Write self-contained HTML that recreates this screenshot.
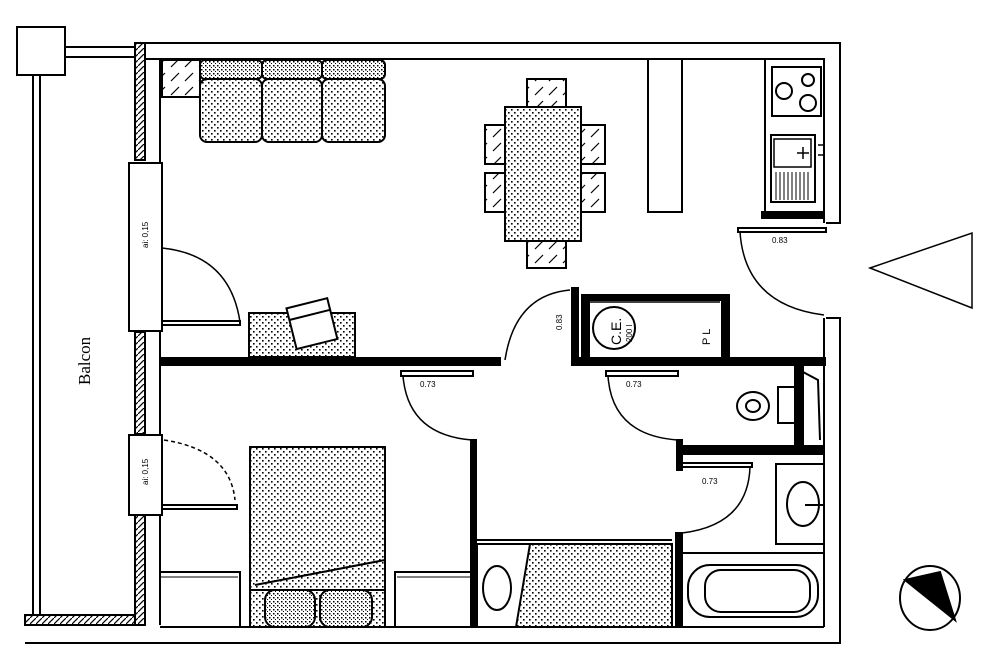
<!DOCTYPE html>
<html><head><meta charset="utf-8"><style>body{margin:0;background:#fff}svg{display:block}</style></head><body>
<svg width="1000" height="667" viewBox="0 0 1000 667" xmlns="http://www.w3.org/2000/svg" font-family="Liberation Sans, sans-serif">
<defs>
<pattern id="dots" width="6" height="6" patternUnits="userSpaceOnUse"><rect width="6" height="6" fill="#fff"/><rect x="1" y="1" width="1.6" height="1.6" fill="#000"/><rect x="4" y="4" width="1.6" height="1.6" fill="#000"/></pattern>
<pattern id="dots2" width="4" height="4" patternUnits="userSpaceOnUse"><rect width="4" height="4" fill="#fff"/><rect x="1" y="1" width="1.5" height="1.5" fill="#000"/><rect x="3" y="3" width="1.2" height="1.2" fill="#000"/></pattern>
<pattern id="hatch" width="6" height="6" patternUnits="userSpaceOnUse"><rect width="6" height="6" fill="#fff"/><path d="M0 6L6 0" stroke="#000" stroke-width="1.2"/></pattern>
<pattern id="hatch2" width="14" height="14" patternUnits="userSpaceOnUse"><rect width="14" height="14" fill="#fff"/><path d="M3 11L11 3" stroke="#000" stroke-width="1.2"/></pattern>
</defs>
<g fill="none" stroke="#000" stroke-width="2">
<rect x="17" y="27" width="48" height="48"/>
<line x1="65" y1="47" x2="135" y2="47"/><line x1="65" y1="57" x2="135" y2="57"/>
<line x1="33" y1="75" x2="33" y2="615"/><line x1="40" y1="75" x2="40" y2="615"/>
<rect x="25" y="615" width="120" height="10" fill="url(#hatch)"/>
<rect x="135" y="43" width="10" height="117" fill="url(#hatch)"/>
<rect x="135" y="332" width="10" height="102" fill="url(#hatch)"/>
<rect x="135" y="515" width="10" height="110" fill="url(#hatch)"/>
<line x1="160" y1="59" x2="160" y2="625"/>
<rect x="129" y="163" width="33" height="168" fill="#fff"/>
<line x1="162" y1="163" x2="162" y2="248"/>
<rect x="129" y="435" width="33" height="80" fill="#fff"/>
<polyline points="135,43 840,43 840,223 826,223"/>
<polyline points="145,59 824,59"/>
<line x1="824" y1="59" x2="824" y2="223"/>
<polyline points="826,318 840,318 840,643 25,643"/>
<line x1="824" y1="318" x2="824" y2="627"/>
<line x1="160" y1="627" x2="824" y2="627"/>
<rect x="162" y="60" width="38" height="37" fill="url(#hatch2)"/>
<rect x="200" y="60" width="62" height="19" rx="5" fill="url(#dots2)"/>
<rect x="262" y="60" width="60" height="19" rx="5" fill="url(#dots2)"/>
<rect x="322" y="60" width="63" height="19" rx="5" fill="url(#dots2)"/>
<rect x="200" y="79" width="62" height="63" rx="7" fill="url(#dots)"/>
<rect x="262" y="79" width="60" height="63" rx="7" fill="url(#dots)"/>
<rect x="322" y="79" width="63" height="63" rx="7" fill="url(#dots)"/>
<rect x="527" y="79" width="39" height="28" fill="url(#hatch2)"/>
<rect x="527" y="240" width="39" height="28" fill="url(#hatch2)"/>
<rect x="485" y="125" width="20" height="39" fill="url(#hatch2)"/>
<rect x="485" y="173" width="20" height="39" fill="url(#hatch2)"/>
<rect x="581" y="125" width="24" height="39" fill="url(#hatch2)"/>
<rect x="581" y="173" width="24" height="39" fill="url(#hatch2)"/>
<rect x="505" y="107" width="76" height="134" fill="url(#dots)"/>
<rect x="648" y="59" width="34" height="153"/>
<rect x="765" y="59" width="59" height="153"/>
<rect x="772" y="67" width="49" height="49"/>
<circle cx="784" cy="91" r="8"/><circle cx="808" cy="80" r="6"/><circle cx="808" cy="103" r="8"/>
<rect x="771" y="135" width="44" height="67"/>
<rect x="774" y="139" width="37" height="28" stroke-width="1.5"/>
<path d="M776 172v28M780 172v28M784 172v28M788 172v28M792 172v28M796 172v28M800 172v28M804 172v28M808 172v28" stroke-width="1"/>
<path d="M803 147v12M797 153h12M818 145h5M818 155h5" stroke-width="1.5"/>
<rect x="762" y="212" width="62" height="6" fill="#000"/>
<rect x="738" y="228" width="88" height="4"/>
<path d="M740 232 Q745 305 824 315" stroke-width="1.5"/>
<polygon points="870,268 972,233 972,308" stroke-width="1.5"/>
<path d="M162 248 Q230 255 240 322" stroke-width="1.5"/>
<rect x="162" y="321" width="78" height="4"/>
<rect x="249" y="313" width="106" height="44" fill="url(#dots)"/>
<g transform="rotate(-14 310 320)"><rect x="290" y="303" width="42" height="42" fill="#fff"/><line x1="290" y1="315" x2="332" y2="315"/></g>
<rect x="162" y="358" width="338" height="7" fill="#000"/>
<rect x="572" y="288" width="6" height="77" fill="#000"/>
<path d="M505 360 Q515 295 570 290" stroke-width="1.5"/>
<rect x="582" y="295" width="7" height="70" fill="#000"/>
<rect x="722" y="295" width="7" height="70" fill="#000"/>
<rect x="582" y="295" width="147" height="5" fill="#000"/>
<line x1="590" y1="302" x2="720" y2="302" stroke-width="1.5"/>
<circle cx="614" cy="328" r="21"/>
<rect x="575" y="358" width="250" height="7" fill="#000"/>
<rect x="401" y="371" width="72" height="5"/>
<path d="M403 376 Q408 435 472 440" stroke-width="1.5"/>
<rect x="471" y="440" width="5" height="187" fill="#000"/>
<rect x="606" y="371" width="72" height="5"/>
<path d="M608 376 Q612 435 677 440" stroke-width="1.5"/>
<rect x="795" y="365" width="8" height="84" fill="#000"/>
<path d="M803 372 L818 380 L820 440" stroke-width="2"/>
<rect x="677" y="446" width="147" height="8" fill="#000"/>
<rect x="677" y="440" width="5" height="30" fill="#000"/>
<ellipse cx="753" cy="406" rx="16" ry="14"/><ellipse cx="753" cy="406" rx="7" ry="6"/>
<rect x="778" y="387" width="17" height="36"/>
<rect x="682" y="463" width="70" height="4"/>
<path d="M750 467 Q748 525 682 533" stroke-width="1.5"/>
<rect x="676" y="533" width="6" height="94" fill="#000"/>
<rect x="776" y="464" width="48" height="80"/>
<ellipse cx="803" cy="504" rx="16" ry="22"/>
<line x1="805" y1="505" x2="824" y2="505"/>
<line x1="682" y1="553" x2="824" y2="553"/>
<rect x="688" y="565" width="130" height="52" rx="22"/>
<rect x="705" y="570" width="105" height="42" rx="16"/>
<path d="M164 440 Q230 450 235 500" stroke-width="1.5" stroke-dasharray="4 3"/>
<rect x="162" y="505" width="75" height="4"/>
<rect x="250" y="447" width="135" height="180" fill="url(#dots)"/>
<line x1="255" y1="585" x2="385" y2="560"/>
<line x1="250" y1="590" x2="385" y2="590"/>
<rect x="265" y="590" width="50" height="37" rx="10" fill="url(#dots2)"/>
<rect x="320" y="590" width="52" height="37" rx="10" fill="url(#dots2)"/>
<polyline points="160,572 240,572 240,627"/><line x1="160" y1="577" x2="238" y2="577" stroke-width="1"/>
<polyline points="395,627 395,572 471,572"/><line x1="397" y1="577" x2="471" y2="577" stroke-width="1"/>
<line x1="477" y1="540" x2="672" y2="540"/>
<rect x="477" y="544" width="195" height="83" fill="none"/>
<polygon points="530,544 672,544 672,627 516,627" fill="url(#dots)"/>
<ellipse cx="497" cy="588" rx="14" ry="22"/>
<ellipse cx="930" cy="598" rx="30" ry="32"/>
<polygon points="905,580 940,572 955,620" fill="#000"/>
</g>
<g font-size="8" fill="#000">
<text transform="translate(148,248) rotate(-90)">ai: 0,15</text>
<text transform="translate(148,485) rotate(-90)">ai: 0,15</text>
<text x="420" y="387">0.73</text><text x="626" y="387">0.73</text><text x="702" y="484">0.73</text>
<text x="772" y="243">0.83</text>
<text transform="translate(562,330) rotate(-90)">0.83</text>
<text transform="translate(710,345) rotate(-90)" font-size="11">P L</text>
<text transform="translate(621,345) rotate(-90)" font-size="14">C.E.</text>
<text transform="translate(632,342) rotate(-90)" font-size="8">200 l</text>
</g>
<text transform="translate(90,385) rotate(-90)" font-family="Liberation Serif, serif" font-size="17" fill="#000">Balcon</text>
</svg>
</body></html>
